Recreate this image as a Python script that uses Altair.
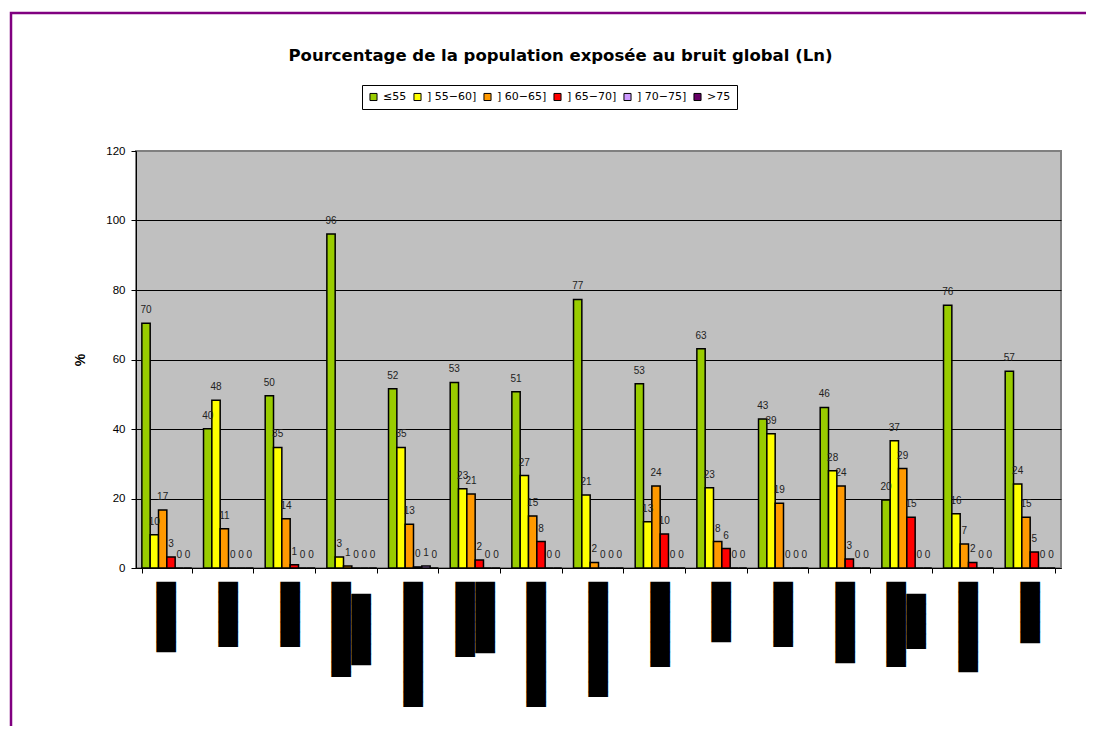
import json
import altair as alt
import pandas as pd

# ---- data ----
series = ["≤55", "] 55−60]", "] 60−65]", "] 65−70]", "] 70−75]", ">75"]
colors = ["#99CC00", "#FFFF00", "#FF9900", "#FF0000", "#CC99FF", "#660066"]

zone_ids = list(range(1, 16))
# category names are redacted (black blocks) in the reference
zone_labels = [
    "███████",
    "▐██████",
    "▐██████",
    "▐█████████|▕███████\u2800",
    "▐████████████",
    "▐███████|▕███████",
    "▐████████████",
    "▐███████████",
    "▐████████",
    "██████",
    "▐██████",
    "▕████████",
    "▐████████|▐█████\u2800",
    "█████████",
    "▕██████",
]
two_line_zones = [4, 6, 13]

v_le55 = [70.4, 40.1, 49.6, 96.1, 51.6, 53.4, 50.7, 77.3, 53.0, 63.1, 42.9, 46.2, 19.6, 75.6, 56.6]
v_55_60 = [9.6, 48.3, 34.7, 3.2, 34.7, 22.8, 26.6, 21.0, 13.3, 23.1, 38.6, 28.0, 36.6, 15.6, 24.2]
v_60_65 = [16.7, 11.3, 14.2, 0.6, 12.6, 21.3, 15.0, 1.6, 23.6, 7.6, 18.6, 23.6, 28.6, 6.9, 14.6]
v_65_70 = [3.2, 0.0, 0.9, 0.0, 0.3, 2.3, 7.6, 0.0, 9.8, 5.6, 0.0, 2.6, 14.6, 1.6, 4.6]
v_70_75 = [0.0, 0.0, 0.0, 0.0, 0.6, 0.0, 0.0, 0.0, 0.0, 0.0, 0.0, 0.0, 0.0, 0.0, 0.0]
v_gt75 = [0.0, 0.0, 0.0, 0.0, 0.0, 0.0, 0.0, 0.0, 0.0, 0.0, 0.0, 0.0, 0.0, 0.0, 0.0]

all_values = [v_le55, v_55_60, v_60_65, v_65_70, v_70_75, v_gt75]

rows = []
for k, (name, vals) in enumerate(zip(series, all_values)):
    for z, v in zip(zone_ids, vals):
        rows.append({"zone": z, "s": name, "k": k, "pct": v})
df = pd.DataFrame(rows)

label_arr = json.dumps(zone_labels, ensure_ascii=False)
label_expr = f"isValid(datum.value) ? split({label_arr}[datum.value - 1], '|') : ''"
two_line_test = f"indexof({json.dumps(two_line_zones)}, datum.value) >= 0"

FONT = "Liberation Sans"

base = alt.Chart(df).encode(
    x=alt.X(
        "zone:O",
        scale=alt.Scale(paddingInner=0.19, paddingOuter=0.095),
        axis=alt.Axis(
            title=None,
            labelExpr=label_expr,
            labelAngle=-90,
            labelFont="DejaVu Sans Mono",
            labelFontSize=16.61,
            labelColor="black",
            labelLineHeight=20,
            labelPadding=8.5,
            labelOffset={"condition": {"test": two_line_test, "value": -10}, "value": 0},
            labelOverlap=False,
            labelLimit=400,
            tickBand="extent",
            tickOffset=5.86,
            tickSize=5,
            tickColor="black",
            domainColor="black",
            domainWidth=1,
        ),
    ),
    xOffset=alt.XOffset("k:O", scale=alt.Scale(paddingInner=0, paddingOuter=0)),
    y=alt.Y(
        "pct:Q",
        scale=alt.Scale(domain=[0, 120]),
        axis=alt.Axis(
            values=[0, 20, 40, 60, 80, 100, 120],
            title="%",
            titleFont=FONT,
            titleFontSize=14,
            titleFontWeight="bold",
            titleColor="black",
            titlePadding=18,
            labelFont=FONT,
            labelFontSize=11.5,
            labelColor="black",
            labelPadding=6,
            tickSize=5,
            tickColor="black",
            domainColor="black",
            grid=True,
            gridColor={"condition": {"test": "datum.value == 120", "value": "#808080"}, "value": "black"},
            gridWidth=1,
        ),
    ),
)

bars = base.mark_bar(stroke="black", strokeWidth=1.5).encode(
    color=alt.Color(
        "s:N",
        sort=series,
        scale=alt.Scale(domain=series, range=colors),
        legend=alt.Legend(
            title=None,
            orient="none",
            legendX=226,
            legendY=-66,
            direction="horizontal",
            symbolType="square",
            symbolSize=50,
            symbolStrokeColor="black",
            symbolStrokeWidth=1,
            labelFont="DejaVu Sans",
            labelFontSize=11,
            labelColor="black",
            labelOffset=4,
            columnPadding=4,
            strokeColor="black",
            fillColor="white",
            padding=6,
        ),
    )
)

labels = base.mark_text(
    font=FONT, fontSize=10, color="#222222", baseline="alphabetic", dy=-10
).encode(text=alt.Text("pct:Q", format=".0f"))

frame = alt.Chart(pd.DataFrame({"f": [0]})).mark_rect(
    filled=False, stroke="#800080", strokeWidth=2.5
).encode(x=alt.value(-125), x2=alt.value(1300), y=alt.value(-138), y2=alt.value(900))

chart = alt.layer(frame, bars, labels).properties(
    width=925,
    height=417,
    autosize="none",
    padding={"left": 128, "top": 143, "right": 25, "bottom": 158},
    background="white",
    title=alt.TitleParams(
        "Pourcentage de la population exposée au bruit global  (Ln)",
        font="DejaVu Sans",
        fontSize=16.5,
        fontWeight="bold",
        color="black",
        anchor="middle",
        dx=-38,
        offset=0,
        dy=53,
    ),
).configure_view(fill="#C0C0C0", stroke="#808080", strokeWidth=2)

chart.save("out.html", embed_options={"renderer": "svg", "actions": False})
